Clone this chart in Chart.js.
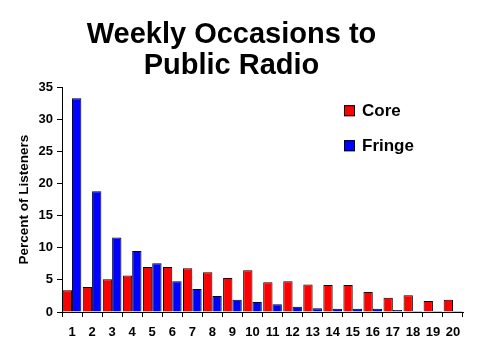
<!DOCTYPE html>
<html>
<head>
<meta charset="utf-8">
<script src="https://cdn.jsdelivr.net/npm/chart.js@4.4.1/dist/chart.umd.min.js"></script>
<style>
  html, body { margin: 0; padding: 0; background: #fff; }
  #wrap { width: 480px; height: 360px; }
</style>
</head>
<body>
<div id="wrap"><canvas id="chart" width="480" height="360"></canvas></div>
<script>
// Weekly occasions, 1..20
const occasions = ['1', '2', '3', '4', '5', '6', '7', '8', '9', '10',
                   '11', '12', '13', '14', '15', '16', '17', '18', '19', '20'];
const coreValues = [3.4, 3.9, 5.1, 5.7, 7.0, 7.0, 6.8, 6.2, 5.3, 6.5,
                    4.65, 4.8, 4.3, 4.2, 4.2, 3.1, 2.2, 2.6, 1.7, 1.9];
const fringeValues = [33.3, 18.8, 11.6, 9.5, 7.6, 4.8, 3.6, 2.5, 1.9, 1.55,
                      1.2, 0.8, 0.6, 0.5, 0.5, 0.5, 0.3, 0.15, 0.15, 0.15];
const yTicks = [0, 5, 10, 15, 20, 25, 30, 35];

const FONT = "'Liberation Sans', Arial, sans-serif";

// legend drawn inside the plot, top right
const insideLegend = {
    id: 'insideLegend',
    afterDatasetsDraw(chart) {
        const ctx = chart.ctx;
        const area = chart.chartArea;
        const x = area.left + 282;
        let y = area.top + 18;
        ctx.save();
        ctx.font = 'bold 17px ' + FONT;
        ctx.textBaseline = 'middle';
        chart.data.datasets.forEach(function(ds) {
            ctx.fillStyle = ds.backgroundColor;
            ctx.fillRect(x, y, 11, 11);
            ctx.strokeStyle = '#000';
            ctx.lineWidth = 1;
            ctx.strokeRect(x + 0.5, y + 0.5, 10, 10);
            ctx.fillStyle = '#000';
            ctx.fillText(ds.label, x + 18, y + 6);
            y += 35;
        });
        ctx.restore();
    }
};

const ctx = document.getElementById('chart');
new Chart(ctx, {
    type: 'bar',
    data: {
        labels: occasions,
        datasets: [{
            label: 'Core',
            data: coreValues,
            backgroundColor: '#ff0000',
            borderColor: '#000',
            borderWidth: 1
        }, {
            label: 'Fringe',
            data: fringeValues,
            backgroundColor: '#0000ff',
            borderColor: '#000',
            borderWidth: 1
        }]
    },
    options: {
        responsive: false,
        animation: false,
        devicePixelRatio: 1,
        layout: { padding: { left: 0, right: 17, top: 0, bottom: 0 } },
        datasets: {
            bar: { categoryPercentage: 0.93, barPercentage: 1 }
        },
        scales: {
            x: {
                grid: { display: true, offset: true, drawOnChartArea: false, tickLength: 5, color: '#000' },
                border: { display: true, color: '#000', width: 1 },
                ticks: { color: '#000', padding: 8, maxRotation: 0, autoSkip: false,
                         font: { family: FONT, size: 13, weight: 'bold' } },
                afterFit: function(scale) { scale.height = 48; }
            },
            y: {
                min: 0,
                max: 35,
                afterBuildTicks: function(scale) {
                    scale.ticks = yTicks.map(function(v) { return { value: v }; });
                },
                grid: { display: true, drawOnChartArea: false, tickLength: 5, color: '#000' },
                border: { display: true, color: '#000', width: 1 },
                ticks: { color: '#000', padding: 4,
                         font: { family: FONT, size: 13, weight: 'bold' } },
                title: {
                    display: true,
                    text: 'Percent of Listeners',
                    color: '#000',
                    padding: { top: 16, bottom: 0 },
                    font: { family: FONT, size: 13.5, weight: 'bold' }
                },
                afterFit: function(scale) { scale.width = 62; }
            }
        },
        plugins: {
            legend: { display: false },
            tooltip: { enabled: false },
            title: {
                display: true,
                text: ['Weekly Occasions to', 'Public Radio'],
                color: '#000',
                padding: { top: 19, bottom: 5 },
                font: { family: FONT, size: 29, weight: 'bold', lineHeight: 1.09 }
            }
        }
    },
    plugins: [insideLegend]
});
</script>
</body>
</html>
